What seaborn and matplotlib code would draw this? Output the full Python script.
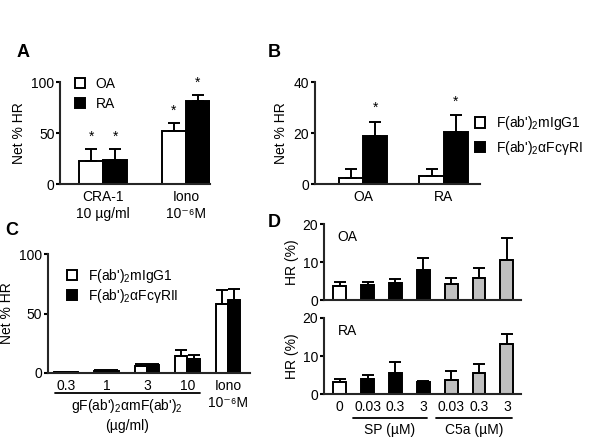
import numpy as np
import pandas as pd
import matplotlib
matplotlib.use("Agg")
import matplotlib.pyplot as plt
import matplotlib.transforms as mtrans
import seaborn as sns

# ---- data ----
a_conds = ["CRA-1\n10 µg/ml", "Iono\n10⁻⁶M"]
a_groups = ["OA", "RA"]
a_vals = {"OA": [23, 52], "RA": [24, 81]}
a_errs = {"OA": [11, 8], "RA": [10, 6]}

b_conds = ["OA", "RA"]
b_groups = ["F(ab')$_2$mIgG1", "F(ab')$_2$αFcγRI"]
b_vals = {b_groups[0]: [2.5, 3.3], b_groups[1]: [19, 20.5]}
b_errs = {b_groups[0]: [3.3, 2.7], b_groups[1]: [5.5, 6.5]}

c_conds = ["0.3", "1", "3", "10", "Iono\n10⁻⁶M"]
c_groups = ["F(ab')$_2$mIgG1", "F(ab')$_2$αFcγRII"]
c_vals = {c_groups[0]: [0.5, 2, 6, 14, 58], c_groups[1]: [0.5, 2, 6.5, 12, 61]}
c_errs = {c_groups[0]: [0.3, 0.5, 1.5, 5, 12], c_groups[1]: [0.3, 0.5, 1, 3.5, 10]}

d_keys = ["0", "SP 0.03", "SP 0.3", "SP 3", "C5a 0.03", "C5a 0.3", "C5a 3"]
d_ticks = ["0", "0.03", "0.3", "3", "0.03", "0.3", "3"]
d_oa = [3.8, 4.0, 4.5, 7.8, 4.3, 5.8, 10.5]
d_oa_err = [1.0, 0.8, 1.0, 3.2, 1.5, 2.5, 5.8]
d_ra = [3.2, 4.0, 5.5, 3.2, 3.8, 5.5, 13.2]
d_ra_err = [0.8, 1.0, 3.0, 0.3, 2.2, 2.5, 2.6]
d_colors = ["white", "black", "black", "black", "#c0c0c0", "#c0c0c0", "#c0c0c0"]

# ---- style ----
sns.set_theme(style="ticks")
plt.rcParams["font.family"] = ["Liberation Sans", "DejaVu Sans"]
plt.rcParams.update({
    "mathtext.fontset": "custom",
    "mathtext.rm": "Liberation Sans",
    "mathtext.it": "Liberation Sans:italic",
    "mathtext.default": "regular",
    "axes.linewidth": 1.5,
    "xtick.labelsize": 10,
    "ytick.labelsize": 10,
    "axes.labelsize": 10,
    "ytick.major.width": 1.5,
    "ytick.major.size": 3,
    "text.color": "black",
    "axes.labelcolor": "black",
    "xtick.color": "black",
    "ytick.color": "black",
})

LW = 1.4
FS = 10


def grouped_df(conds, groups, vals):
    rows = []
    for g in groups:
        for c, v in zip(conds, vals[g]):
            rows.append({"cond": c, "group": g, "val": v})
    return pd.DataFrame(rows)


def add_err(ax, errs_list):
    for container, errs in zip(ax.containers, errs_list):
        for bar, e in zip(container, errs):
            x = bar.get_x() + bar.get_width() / 2
            ax.errorbar(x, bar.get_height(), yerr=[[0], [e]], fmt="none",
                        ecolor="black", elinewidth=LW, capsize=4, capthick=LW)


def tidy(ax):
    sns.despine(ax=ax)
    ax.tick_params(axis="x", length=0, pad=4)
    ax.tick_params(axis="y", pad=1)
    ax.set_xlabel("")
    for lab in ax.get_xticklabels():
        lab.set_linespacing(1.35)


def square_legend(ax, groups, colors, anchor, spacing=0.45):
    handles = [plt.Rectangle((0, 0), 1, 1, facecolor=c, edgecolor="black", linewidth=LW)
               for c in colors]
    ax.legend(handles, groups, frameon=False, fontsize=FS, handlelength=0.75,
              handleheight=0.75, handletextpad=0.75, borderaxespad=0, borderpad=0,
              labelspacing=spacing, loc="upper left", bbox_to_anchor=anchor,
              bbox_transform=fig.transFigure)


fig = plt.figure(figsize=(6.02, 4.45), dpi=100)

# ---- A ----
axA = fig.add_axes([0.0997, 0.5865, 0.249, 0.2292])
dfA = grouped_df(a_conds, a_groups, a_vals)
sns.barplot(data=dfA, x="cond", y="val", hue="group", order=a_conds, hue_order=a_groups,
            palette={"OA": "white", "RA": "black"}, edgecolor="black", linewidth=LW,
            width=0.58, errorbar=None, legend=False, ax=axA)
add_err(axA, [a_errs[g] for g in a_groups])
axA.set_ylim(0, 100)
axA.set_yticks([0, 50, 100])
axA.set_xlim(-0.52, 1.29)
axA.set_ylabel("Net % HR")
tidy(axA)
square_legend(axA, a_groups, ["white", "black"], (0.1246, 0.827))
for c, g, dx in [(0, "OA", -0.145), (0, "RA", 0.145), (1, "OA", -0.145), (1, "RA", 0.145)]:
    top = a_vals[g][c] + a_errs[g][c]
    axA.text(c + dx, top + 5, "*", ha="center", va="bottom", fontsize=FS)

# ---- B ----
axB = fig.add_axes([0.523, 0.5865, 0.274, 0.2292])
dfB = grouped_df(b_conds, b_groups, b_vals)
sns.barplot(data=dfB, x="cond", y="val", hue="group", order=b_conds, hue_order=b_groups,
            palette={b_groups[0]: "white", b_groups[1]: "black"}, edgecolor="black",
            linewidth=LW, width=0.6, errorbar=None, legend=False, ax=axB)
add_err(axB, [b_errs[g] for g in b_groups])
axB.set_ylim(0, 40)
axB.set_yticks([0, 20, 40])
axB.set_xlim(-0.6, 1.45)
axB.set_ylabel("Net % HR")
tidy(axB)
square_legend(axB, b_groups, ["white", "black"], (0.789, 0.743))
for c in range(2):
    top = b_vals[b_groups[1]][c] + b_errs[b_groups[1]][c]
    axB.text(c + 0.15, top + 2.5, "*", ha="center", va="bottom", fontsize=FS)

# ---- C ----
axC = fig.add_axes([0.0797, 0.1618, 0.3355, 0.2674])
dfC = grouped_df(c_conds, c_groups, c_vals)
sns.barplot(data=dfC, x="cond", y="val", hue="group", order=c_conds, hue_order=c_groups,
            palette={c_groups[0]: "white", c_groups[1]: "black"}, edgecolor="black",
            linewidth=LW, width=0.6, errorbar=None, legend=False, ax=axC)
add_err(axC, [c_errs[g] for g in c_groups])
axC.set_ylim(0, 100)
axC.set_yticks([0, 50, 100])
axC.set_xlim(-0.44, 4.54)
axC.set_ylabel("Net % HR")
tidy(axC)
square_legend(axC, c_groups, ["white", "black"], (0.1113, 0.4), spacing=0.15)
trC = mtrans.blended_transform_factory(axC.transData, axC.transAxes)
axC.plot([-0.27, 3.31], [-0.17, -0.17], color="black", lw=1.3, transform=trC, clip_on=False)
axC.text(1.5, -0.2, "gF(ab')$_2$αmF(ab')$_2$\n(µg/ml)", transform=trC, ha="center", va="top",
         fontsize=FS, linespacing=1.35)

# ---- D ----
def d_panel(rect, vals, errs, tag):
    ax = fig.add_axes(rect)
    df = pd.DataFrame({"key": d_keys, "val": vals})
    sns.barplot(data=df, x="key", y="val", hue="key", order=d_keys, hue_order=d_keys,
                palette=d_colors, edgecolor="black", linewidth=LW, width=0.46,
                errorbar=None, legend=False, ax=ax)
    add_err(ax, [[e] for e in errs])
    ax.set_ylim(0, 20)
    ax.set_yticks([0, 10, 20])
    ax.set_xlim(-0.57, 6.5)
    ax.set_ylabel("HR (%)", labelpad=3)
    tidy(ax)
    ax.text(0.07, 0.92, tag, transform=ax.transAxes, ha="left", va="top", fontsize=FS)
    return ax

axD1 = d_panel([0.538, 0.3258, 0.327, 0.1708], d_oa, d_oa_err, "OA")
axD1.set_xticks(range(len(d_keys)))
axD1.set_xticklabels([])
axD2 = d_panel([0.538, 0.1146, 0.327, 0.1708], d_ra, d_ra_err, "RA")
axD2.set_xticks(range(len(d_keys)))
axD2.set_xticklabels(d_ticks)
trD = mtrans.blended_transform_factory(axD2.transData, axD2.transAxes)
for x0, x1, lab in [(0.46, 3.14, "SP (µM)"), (3.46, 6.18, "C5a (µM)")]:
    axD2.plot([x0, x1], [-0.32, -0.32], color="black", lw=1.3, transform=trD, clip_on=False)
    axD2.text((x0 + x1) / 2, -0.38, lab, transform=trD, ha="center", va="top", fontsize=FS)

# ---- panel letters ----
for x, y, s in [(0.028, 0.883, "A"), (0.445, 0.883, "B"), (0.008, 0.483, "C"), (0.444, 0.499, "D")]:
    fig.text(x, y, s, fontsize=13, fontweight="bold", ha="left", va="center")

fig.savefig("out.png", dpi=100, facecolor="white")
plt.close(fig)
